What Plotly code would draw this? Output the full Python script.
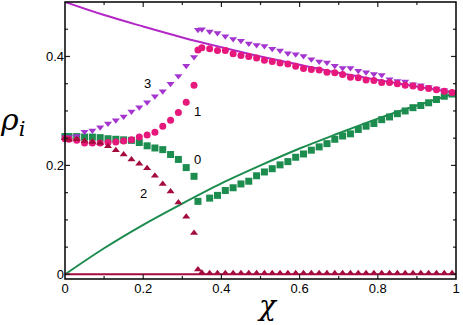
import plotly.graph_objects as go

# x positions of simulation points
chi = [0, 0.01, 0.03, 0.05, 0.07, 0.09, 0.11, 0.13, 0.15, 0.17, 0.19, 0.21, 0.23, 0.25,
       0.27, 0.29, 0.31, 0.33, 0.34, 0.35, 0.37, 0.39, 0.41, 0.43, 0.45, 0.47, 0.49, 0.51,
       0.53, 0.55, 0.57, 0.59, 0.61, 0.63, 0.65, 0.67, 0.69, 0.71, 0.73, 0.75, 0.77, 0.79,
       0.81, 0.83, 0.85, 0.87, 0.89, 0.91, 0.93, 0.95, 0.97, 0.99]

rho3 = [0.252, 0.252, 0.254, 0.262, 0.264, 0.270, 0.277, 0.283, 0.290, 0.299, 0.307, 0.316,
        0.327, 0.336, 0.350, 0.364, 0.383, 0.399, 0.449, 0.450, 0.446, 0.443, 0.437, 0.432,
        0.429, 0.424, 0.421, 0.419, 0.414, 0.411, 0.406, 0.404, 0.401, 0.395, 0.391, 0.389,
        0.383, 0.379, 0.379, 0.374, 0.371, 0.368, 0.366, 0.358, 0.355, 0.354, 0.349, 0.347,
        0.344, 0.341, 0.338, 0.335]

rho1 = [0.249, 0.248, 0.246, 0.241, 0.241, 0.241, 0.242, 0.243, 0.245, 0.247, 0.252, 0.256,
        0.261, 0.272, 0.283, 0.297, 0.316, 0.347, 0.412, 0.416, 0.414, 0.411, 0.411, 0.405,
        0.402, 0.400, 0.397, 0.393, 0.391, 0.388, 0.386, 0.382, 0.378, 0.376, 0.375, 0.371,
        0.370, 0.367, 0.362, 0.361, 0.357, 0.356, 0.352, 0.352, 0.350, 0.347, 0.346, 0.343,
        0.341, 0.339, 0.336, 0.334]

rho0 = [0.253, 0.253, 0.253, 0.252, 0.252, 0.251, 0.249, 0.248, 0.247, 0.246, 0.242, 0.236,
        0.232, 0.229, 0.220, 0.211, 0.196, 0.180, 0.134, None, 0.140, 0.145, 0.154, 0.159,
        0.166, 0.171, 0.181, 0.188, 0.194, 0.201, 0.207, 0.215, 0.221, 0.228, 0.234, 0.240,
        0.248, 0.254, 0.258, 0.266, 0.272, 0.277, 0.284, 0.289, 0.295, 0.300, 0.306, 0.310,
        0.315, 0.321, 0.327, 0.331]

rho2 = [0.250, 0.247, 0.248, 0.245, 0.243, 0.241, 0.235, 0.228, 0.220, 0.211, 0.203, 0.195,
        0.181, 0.166, 0.152, 0.132, 0.106, 0.076, 0.009, 0.003, 0.002, 0.002, 0.002, 0.002,
        0.002, 0.002, 0.002, 0.002, 0.002, 0.002, 0.002, 0.002, 0.002, 0.002, 0.002, 0.002,
        0.002, 0.002, 0.002, 0.002, 0.002, 0.002, 0.002, 0.002, 0.002, 0.002, 0.002, 0.002,
        0.002, 0.002, 0.002, 0.002]

# theory curves
chi_line = [0, 0.1, 0.2, 0.3, 0.4, 0.5, 0.6, 0.7, 0.8, 0.9, 1.0]
line_top = [0.500, 0.476, 0.455, 0.435, 0.417, 0.400, 0.385, 0.370, 0.357, 0.345, 0.333]
line_mid = [0.0, 0.048, 0.091, 0.130, 0.167, 0.200, 0.231, 0.259, 0.286, 0.310, 0.333]
line_bot = [0.0, 0.0, 0.0, 0.0, 0.0, 0.0, 0.0, 0.0, 0.0, 0.0, 0.0]

labels = ["3", "1", "0", "2"]
label_x = [0.21, 0.339, 0.339, 0.20]
label_y = [0.350, 0.299, 0.210, 0.149]

# axis ticks
x_major = [0.2, 0.4, 0.6, 0.8]
x_minor = [0.1, 0.3, 0.5, 0.7, 0.9]
y_major = [0.0, 0.2, 0.4]
y_minor = [0.05, 0.1, 0.15, 0.25, 0.3, 0.35, 0.45]

X_RANGE = [0, 1]
Y_RANGE = [-0.0085, 0.5]

W, H = 463, 325
MARGIN = dict(l=65, r=7, t=2, b=46)
PLOT_W = W - MARGIN["l"] - MARGIN["r"]
PLOT_H = H - MARGIN["t"] - MARGIN["b"]
XPX = (X_RANGE[1] - X_RANGE[0]) / PLOT_W   # data units per pixel
YPX = (Y_RANGE[1] - Y_RANGE[0]) / PLOT_H

PURPLE = "#a435cf"
PURPLE_LINE = "#b327c6"
PINK = "#e6187c"
GREEN = "#1d8c4f"
MAROON = "#a30c3c"

fig = go.Figure()
fig.add_trace(go.Scatter(x=chi_line, y=line_top, mode="lines", line=dict(color=PURPLE_LINE, width=2, shape="spline"), cliponaxis=False))
fig.add_trace(go.Scatter(x=chi_line, y=line_mid, mode="lines", line=dict(color=GREEN, width=2, shape="spline"), cliponaxis=False))
fig.add_trace(go.Scatter(x=chi_line, y=line_bot, mode="lines", line=dict(color=MAROON, width=2), cliponaxis=False))

fig.add_trace(go.Scatter(x=chi, y=rho0, mode="markers", marker=dict(symbol="square", size=7, color=GREEN), cliponaxis=False))
fig.add_trace(go.Scatter(x=chi, y=rho3, mode="markers", marker=dict(symbol="triangle-down", size=7, color=PURPLE), cliponaxis=False))
fig.add_trace(go.Scatter(x=chi, y=rho1, mode="markers", marker=dict(symbol="circle", size=7, color=PINK), cliponaxis=False))
fig.add_trace(go.Scatter(x=chi, y=rho2, mode="markers", marker=dict(symbol="triangle-up", size=7, color=MAROON), cliponaxis=False))

# inward tick marks on all four sides, built from the tick lists
tx, ty = [], []
for ticks, n in ((x_major, 5), (x_minor, 3)):
    for v in ticks:
        tx += [v, v, None, v, v, None]
        ty += [Y_RANGE[0], Y_RANGE[0] + n * YPX, None, Y_RANGE[1], Y_RANGE[1] - n * YPX, None]
for ticks, n in ((y_major, 5), (y_minor, 3)):
    for v in ticks:
        tx += [X_RANGE[0], X_RANGE[0] + n * XPX, None, X_RANGE[1], X_RANGE[1] - n * XPX, None]
        ty += [v, v, None, v, v, None]
fig.add_trace(go.Scatter(x=tx, y=ty, mode="lines", line=dict(color="#222222", width=1.2),
                         hoverinfo="skip", cliponaxis=False))

for t, lx, ly in zip(labels, label_x, label_y):
    fig.add_annotation(x=lx, y=ly, text=t, showarrow=False, font=dict(size=13, color="black", family="Liberation Sans"))

fig.add_annotation(xref="paper", yref="paper", x=-0.135, y=0.57, text="<i>ρ</i><sub><i>i</i></sub>", showarrow=False,
                   font=dict(size=30, color="black", family="DejaVu Serif"), xanchor="center", yanchor="middle")
fig.add_annotation(xref="paper", yref="paper", x=0.517, y=-0.095, text="<i>χ</i>", showarrow=False,
                   font=dict(size=28, color="black", family="DejaVu Serif"), xanchor="center", yanchor="middle")

# frame around the plot area
fig.add_shape(type="rect", xref="paper", yref="paper", x0=0, y0=0, x1=1, y1=1,
              line=dict(color="black", width=1.5), layer="above")

tickfont = dict(size=13, color="black", family="Liberation Sans")
fig.update_layout(
    width=W, height=H, margin=MARGIN, showlegend=False,
    plot_bgcolor="white", paper_bgcolor="white",
    xaxis=dict(range=X_RANGE, tick0=0, dtick=0.2, ticks="", showline=False,
               showgrid=False, zeroline=False, tickfont=tickfont),
    yaxis=dict(range=Y_RANGE, tick0=0, dtick=0.2, ticks="", showline=False,
               showgrid=False, zeroline=False, tickfont=tickfont),
)
fig.write_html("out.html", config={"displayModeBar": False},
               post_script="document.body.style.margin='0px';")
